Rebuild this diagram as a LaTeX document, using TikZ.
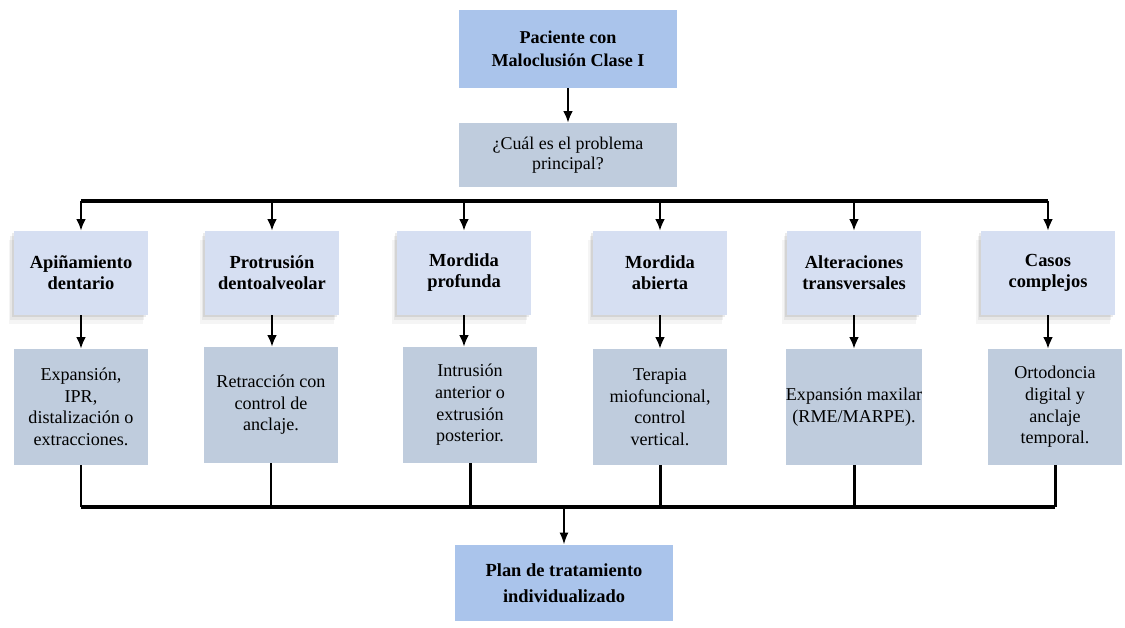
\documentclass[tikz,border=0pt]{standalone}
\usepackage{fontspec}
\setmainfont{Liberation Serif}
\usepackage{tikz}
\usetikzlibrary{arrows.meta, shadows}

\definecolor{azulfuerte}{RGB}{170,196,235}
\definecolor{azulgris}{RGB}{191,204,221}
\definecolor{azulclaro}{RGB}{214,223,242}

\begin{document}
\begin{tikzpicture}[x=0.02cm, y=-0.02cm,
  caja/.style={rectangle, align=center, inner sep=2pt},
  principal/.style={caja, fill=azulfuerte, minimum width=4.36cm, font=\fontsize{10.3}{13}\selectfont\bfseries},
  pregunta/.style={caja, fill=azulgris, minimum width=4.36cm, minimum height=1.28cm, font=\fontsize{10.2}{11.5}\selectfont},
  problema/.style={caja, fill=azulclaro, minimum width=2.68cm, minimum height=1.68cm, font=\fontsize{10.5}{12}\selectfont\bfseries,
    drop shadow={shadow xshift=-1pt, shadow yshift=-1pt, opacity=.08, fill=black},
    drop shadow={shadow xshift=-2pt, shadow yshift=-3pt, opacity=.06, fill=black},
    drop shadow={shadow xshift=-3pt, shadow yshift=-5pt, opacity=.04, fill=black}},
  manejo/.style={caja, inner xsep=0pt, fill=azulgris, minimum width=2.68cm, minimum height=2.32cm, font=\fontsize{10.3}{12.3}\selectfont},
  flecha/.style={-{Latex[length=6.5pt, width=5.5pt]}, line width=1.1pt},
  barra/.style={line width=2.3pt}]
\useasboundingbox (0,0) rectangle (1125,628);

% Paciente y pregunta inicial
\node[principal, minimum height=1.56cm] (pac) at (568,49) {Paciente con\\Maloclusión Clase I};
\node[pregunta] (preg) at (568,155) {¿Cuál es el problema\\principal?};
\draw[flecha] (pac) -- (preg);

% Tipos de problema
\node[problema] (api) at (81,273) {Apiñamiento\\dentario};
\node[problema] (pro) at (272,273) {Protrusión\\dentoalveolar};
\node[problema] (mpr) at (464,273) {Mordida\\profunda};
\node[problema] (mab) at (660,273) {Mordida\\abierta};
\node[problema] (alt) at (854,273) {Alteraciones\\transversales};
\node[problema] (cas) at (1048,273) {Casos\\complejos};

% Barra superior con flechas hacia cada problema
\coordinate (barraA) at (0,201);
\draw[barra] (api.north |- barraA) -- (cas.north |- barraA);
\foreach \p in {api, pro, mpr, mab, alt, cas}
  \draw[flecha] (\p.north |- barraA) -- (\p.north);

% Tratamiento para cada problema
\node[manejo] (tapi) at (81,407) {Expansión,\\IPR,\\distalización o\\extracciones.};
\node[manejo] (tpro) at (271,405) {Retracción con\\control de\\anclaje.};
\node[manejo] (tmpr) at (470,405) {Intrusión\\anterior o\\extrusión\\posterior.};
\node[manejo] (tmab) at (660,407) {Terapia\\miofuncional,\\control\\vertical.};
\node[manejo] (talt) at (854,407) {Expansión maxilar\\(RME/MARPE).};
\node[manejo] (tcas) at (1055,407) {Ortodoncia\\digital y\\anclaje\\temporal.};
\foreach \p/\t in {api/tapi, pro/tpro, mpr/tmpr, mab/tmab, alt/talt, cas/tcas}
  \draw[flecha] (\p.south) -- (\t.north -| \p.south);

% Barra inferior que une los tratamientos
\coordinate (barraB) at (0,507);
\foreach \t in {tapi, tpro, tmpr, tmab, talt, tcas}
  \draw[line width=1.7pt] (\t.south) -- (\t.south |- barraB);
\draw[barra] (tapi.south |- barraB) -- (tcas.south |- barraB);

% Plan final
\node[principal, minimum width=4.38cm, minimum height=1.54cm, font=\fontsize{10.5}{14.7}\selectfont\bfseries] (plan) at (564,583) {Plan de tratamiento\\individualizado};
\draw[-{Latex[length=6.5pt, width=5pt]}, line width=0.6pt] (plan.north |- barraB) -- (plan.north);
\end{tikzpicture}
\end{document}
